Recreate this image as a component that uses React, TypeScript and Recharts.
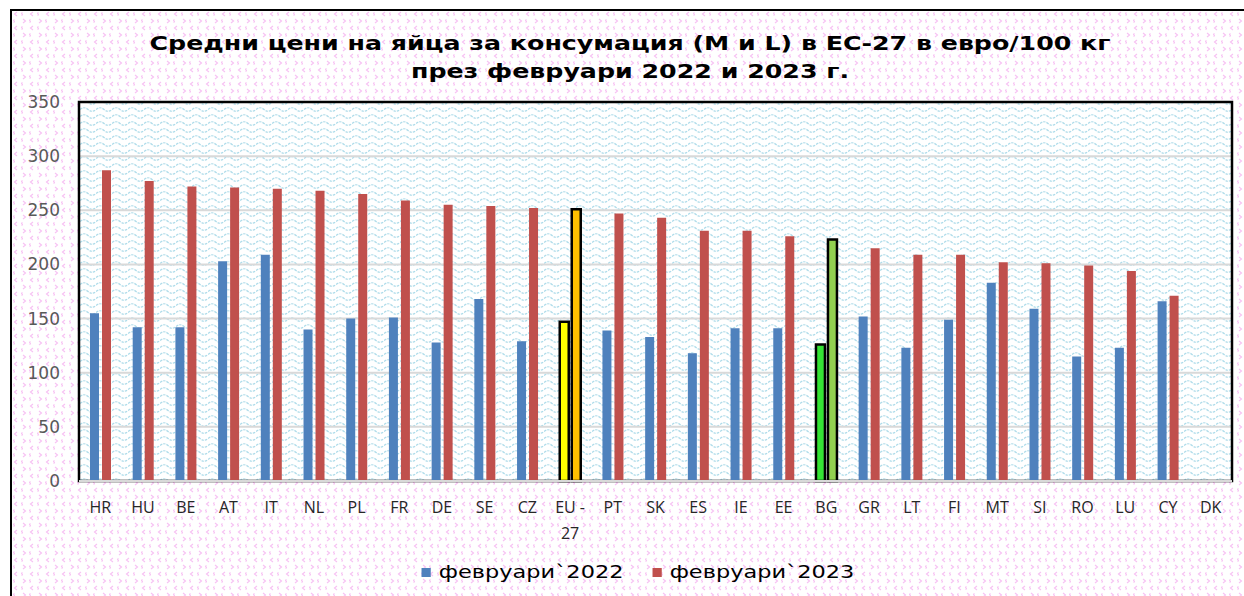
import { BarChart, Bar, XAxis, YAxis, CartesianGrid, Cell, ReferenceArea } from 'recharts';

// данни (евро/100 кг)
const countries = ['HR', 'HU', 'BE', 'AT', 'IT', 'NL', 'PL', 'FR', 'DE', 'SE', 'CZ', 'EU - 27', 'PT', 'SK', 'ES', 'IE', 'EE', 'BG', 'GR', 'LT', 'FI', 'MT', 'SI', 'RO', 'LU', 'CY', 'DK'];
const feb2022 = [155, 142, 142, 203, 209, 140, 150, 151, 128, 168, 129, 147, 139, 133, 118, 141, 141, 126, 152, 123, 149, 183, 159, 115, 123, 166, null];
const feb2023 = [287, 277, 272, 271, 270, 268, 265, 259, 255, 254, 252, 251, 247, 243, 231, 231, 226, 223, 215, 209, 209, 202, 201, 199, 194, 171, null];
const yTicks = [0, 50, 100, 150, 200, 250, 300, 350];
const seriesNames = ['февруари`2022', 'февруари`2023'];
const titleLines = ['Средни цени на яйца за консумация (M и L) в ЕС-27 в евро/100 кг', 'през февруари 2022 и 2023 г.'];

const data = countries.map((c, i) => ({ country: c, v2022: feb2022[i], v2023: feb2023[i] }));

const BLUE = '#4F81BD';
const RED = '#C0504D';
// открояване на ЕС-27 и България
const hl2022: Record<string, string> = { 'EU - 27': '#FFFF00', BG: '#35E335' };
const hl2023: Record<string, string> = { 'EU - 27': '#FFC000', BG: '#92D050' };

const PINK = '#F7C2F3';
const pinkTile = encodeURIComponent(
    '<svg xmlns="http://www.w3.org/2000/svg" width="16" height="14">' +
    `<path d="M5 1 L2.5 3 L5 5" stroke="${PINK}" stroke-width="1.2" fill="none"/>` +
    `<path d="M11 8 L13.5 10 L11 12" stroke="${PINK}" stroke-width="1.2" fill="none"/>` +
    `<path d="M9 2 L11 4 M10 1 L10 5" stroke="${PINK}" stroke-width="0.9" fill="none"/>` +
    `<path d="M1 9 L3 11 M2 8 L2 12" stroke="${PINK}" stroke-width="0.9" fill="none"/>` +
    '</svg>'
);

function CountryTick({ x, y, payload }: any) {
    const words = String(payload.value).split(' ');
    const lines = words.length > 1 ? [words.slice(0, -1).join(' '), words[words.length - 1]] : words;
    return (
        <text x={x} y={y} textAnchor="middle" fontFamily="'Open Sans', sans-serif" fontSize={16} fill="#262626">
            {lines.map((l, i) => (
                <tspan key={i} x={x} dy={i === 0 ? 32 : 26}>{l}</tspan>
            ))}
        </text>
    );
}

export default function App() {
    return (
        <div style={{ position: 'absolute', left: 0, top: 0, width: 1244, height: 596, overflow: 'hidden', background: '#fff' }}>
            <div style={{
                position: 'absolute', left: 10, top: 9, width: 1280, height: 640,
                border: '2.5px solid #000',
                backgroundImage: `url("data:image/svg+xml;utf8,${pinkTile}")`,
            }} />

            <div style={{
                position: 'absolute', left: 0, top: 29, width: 1260, textAlign: 'center',
                fontFamily: "'DejaVu Sans', sans-serif", fontWeight: 'bold', fontSize: 19, lineHeight: '28px',
                transform: 'scaleX(1.33)', transformOrigin: '630px 0',
            }}>
                {titleLines.map((t, i) => <div key={i}>{t}</div>)}
            </div>

            <div style={{ position: 'absolute', left: 0, top: 0 }}>
                <BarChart width={1244} height={596} data={data} margin={{ top: 102, right: 12, bottom: 55, left: 0 }} barSize={9} barGap={3}>
                    <defs>
                        <pattern id="wave" patternUnits="userSpaceOnUse" width="16" height="7">
                            <rect width="16" height="7" fill="#fff" />
                            <path d="M0 4.5 Q4 1 8 4.5 T16 4.5" stroke="#AEDCEA" strokeWidth="1.2" fill="none" strokeDasharray="2.5 1" />
                        </pattern>
                    </defs>
                    <CartesianGrid vertical={false} stroke="#D9D9D9" strokeWidth={2} fill="url(#wave)" fillOpacity={1} />
                    <XAxis dataKey="country" interval={0} height={60} tickLine={false} tickSize={0} tickMargin={0}
                        axisLine={{ stroke: '#D9D9D9', strokeWidth: 2 }} tick={<CountryTick />} />
                    <YAxis width={79} domain={[0, 350]} ticks={yTicks} axisLine={false} tickLine={false} tickSize={6} tickMargin={13}
                        tick={{ fill: '#595959', fontSize: 17, fontFamily: "'DejaVu Sans', sans-serif" }} />
                    <ReferenceArea y1={0} y2={350} fill="none" fillOpacity={0} stroke="#000" strokeWidth={2.5} ifOverflow="visible" />
                    <Bar dataKey="v2022" name={seriesNames[0]} fill={BLUE} isAnimationActive={false}>
                        {data.map((d, i) => (
                            <Cell key={i} fill={hl2022[d.country] ?? BLUE} stroke={hl2022[d.country] ? '#000' : 'none'} strokeWidth={2.5} />
                        ))}
                    </Bar>
                    <Bar dataKey="v2023" name={seriesNames[1]} fill={RED} isAnimationActive={false}>
                        {data.map((d, i) => (
                            <Cell key={i} fill={hl2023[d.country] ?? RED} stroke={hl2023[d.country] ? '#000' : 'none'} strokeWidth={2.5} />
                        ))}
                    </Bar>
                </BarChart>
            </div>

            {/* легенда */}
            <div style={{
                position: 'absolute', left: 0, top: 561, width: 1276, display: 'flex', justifyContent: 'center', gap: 22,
                fontFamily: "'DejaVu Sans', sans-serif", fontSize: 17, lineHeight: '22px', color: '#000',
                transform: 'scaleX(1.32)', transformOrigin: '638px 0',
            }}>
                {seriesNames.map((n, i) => (
                    <div key={n} style={{ display: 'flex', alignItems: 'center' }}>
                        <span style={{ display: 'inline-block', width: 7, height: 9, background: i === 0 ? BLUE : RED, marginRight: 6 }} />
                        {n}
                    </div>
                ))}
            </div>
        </div>
    );
}
